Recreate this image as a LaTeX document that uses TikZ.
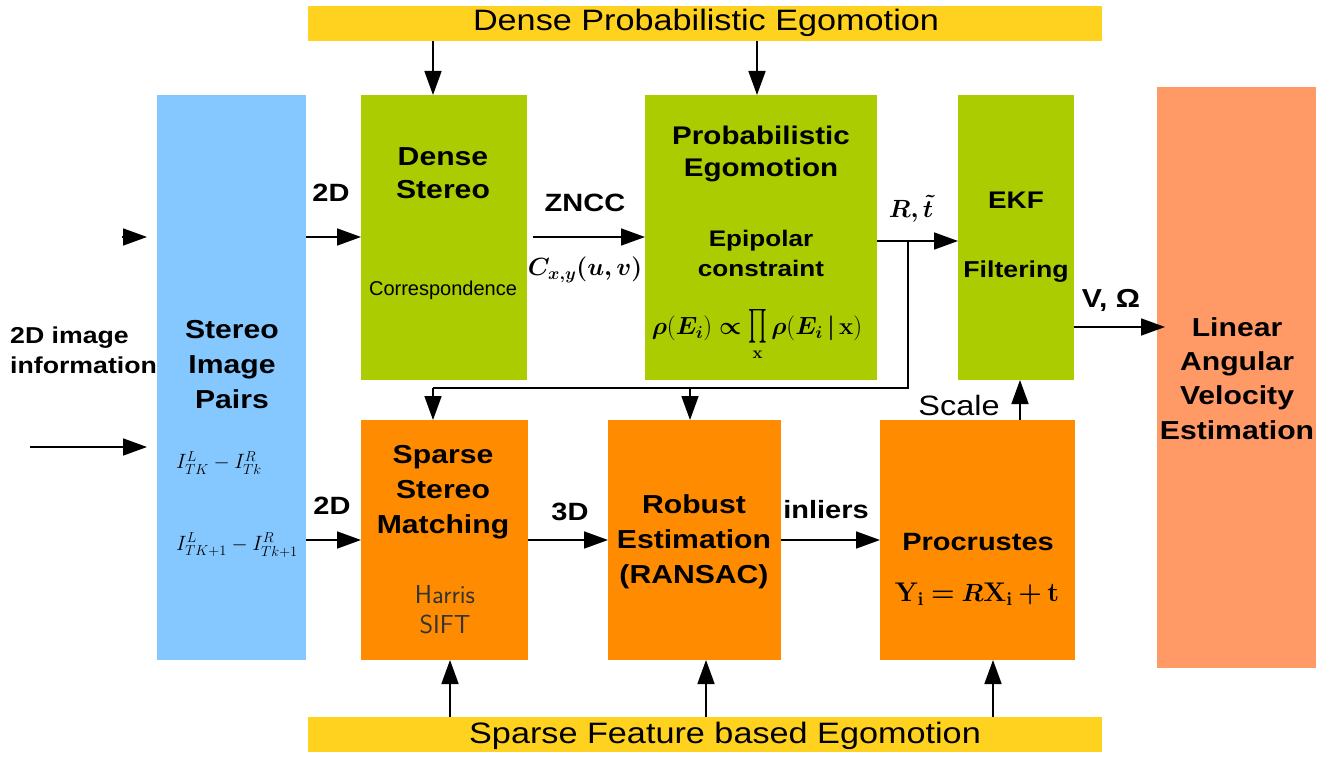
\documentclass[tikz,border=0pt]{standalone}
\usepackage{amsmath}
\usepackage{exscale}
\usepackage{bm}
\usepackage[no-math]{fontspec}
\setmainfont{Liberation Sans}[FakeStretch=1.16]
\newfontfamily\plainfont{Liberation Sans}
\newfontfamily\lmrfont{Latin Modern Roman}
\usetikzlibrary{arrows.meta}
\definecolor{cyel}{HTML}{FFD21F}
\definecolor{cgreen}{HTML}{AACC00}
\definecolor{cblue}{HTML}{85C8FF}
\definecolor{corange}{HTML}{FF8C00}
\definecolor{csalmon}{HTML}{FF9966}
\newcommand{\tb}[1]{\text{\lmrfont\bfseries #1}}
\newcommand{\myBigProd}{\mathop{\scalebox{0.8}[1.35]{$\prod$}}\limits}
\newcommand{\myPEF}{$\bm{\rho}(\bm{E_i})\mathrel{\bm{\propto}}\myBigProd_{\tb{x}}\bm{\rho}(\bm{E_i}\,\bm{|}\,\tb{x})$}
\newcommand{\myPRO}{$\tb{Y}_{\tb{i}}\mathrel{\tb{=}}\bm{R}\tb{X}_{\tb{i}}\mathbin{\tb{+}}\tb{t}$}
\newcommand{\myFA}{$I^{L}_{TK}-I^{R}_{Tk}$}
\newcommand{\myFB}{$I^{L}_{TK+1}-I^{R}_{Tk+1}$}
\newcommand{\myCXY}{$\bm{C_{x,y}(u,v)}$}
\newcommand{\myRT}{$\bm{R,\tilde{t}}$}
\begin{document}
\begin{tikzpicture}[x=1pt,y=-1pt,
  box/.style={draw=none, inner sep=0pt, outer sep=0pt},
  arr/.style={line width=1.7pt, -{Triangle[length=24pt,width=17pt]}},
  ln/.style={line width=1.7pt},
  bl/.style={font=\fontsize{26}{35}\selectfont\bfseries, align=center, inner sep=0pt},
  lb/.style={font=\fontsize{25}{30}\selectfont\bfseries, inner sep=0pt},
  banner/.style={font=\fontsize{29.5}{34}\selectfont, inner sep=0pt},
]
\useasboundingbox (0,0) rectangle (1329,762);
% boxes
\node[box, fill=cyel, minimum width=794pt, minimum height=35pt] (top) at (705,23.5) {};
\node[box, fill=cyel, minimum width=794pt, minimum height=35pt] (bot) at (705,734.5) {};
\node[box, fill=cblue, minimum width=149pt, minimum height=565pt] (blue) at (231.5,377.5) {};
\node[box, fill=cgreen, minimum width=166pt, minimum height=285pt] (ds) at (444,237.5) {};
\node[box, fill=cgreen, minimum width=232pt, minimum height=285pt] (pe) at (761,237.5) {};
\node[box, fill=cgreen, minimum width=116pt, minimum height=285pt] (ekf) at (1016,237.5) {};
\node[box, fill=csalmon, minimum width=159pt, minimum height=581pt] (lin) at (1236.5,377.5) {};
\node[box, fill=corange, minimum width=167pt, minimum height=240pt] (ss) at (444.5,540) {};
\node[box, fill=corange, minimum width=173pt, minimum height=240pt] (rob) at (694.5,540) {};
\node[box, fill=corange, minimum width=195pt, minimum height=240pt] (pro) at (977.5,540) {};

% banner texts
\node[banner] (toptxt) at (706,23) {Dense Probabilistic Egomotion};
\node[banner] (bottxt) at (725,736) {Sparse Feature based Egomotion};

% box texts
\node[bl] (bluetxt) at (232,365) {Stereo\\Image\\Pairs};
\node[inner sep=0pt, font=\fontsize{20}{24}\selectfont] (f1) at (219,463) {\myFA};
\node[inner sep=0pt, font=\fontsize{20}{24}\selectfont] (f2) at (237,545) {\myFB};
\node[bl, font=\fontsize{26}{33}\selectfont\bfseries] (dstxt) at (443,173.5) {Dense\\Stereo};
\node[inner sep=0pt, font=\fontsize{20}{24}\selectfont\plainfont] (corr) at (443,290) {Correspondence};
\node[bl, font=\fontsize{25.5}{32}\selectfont\bfseries] (petxt) at (761,154) {Probabilistic\\Egomotion};
\node[bl, font=\fontsize{22.5}{30}\selectfont\bfseries] (eptxt) at (761,253) {Epipolar\\constraint};
\node[inner sep=0pt, font=\fontsize{24}{28}\selectfont] (pform) at (757,335) {\myPEF};
\node[bl, font=\fontsize{24}{30}\selectfont\bfseries] (ekf1) at (1016,200) {EKF};
\node[bl, font=\fontsize{23}{30}\selectfont\bfseries] (ekf2) at (1016,272) {Filtering};
\node[bl, font=\fontsize{26}{34.3}\selectfont\bfseries] (lintxt) at (1237,378.5) {Linear\\Angular\\Velocity\\Estimation};
\node[bl] (sstxt) at (443,492) {Sparse\\Stereo\\Matching};
\node[inner sep=0pt, align=center, font=\fontsize{26}{30}\selectfont\sffamily, text=black!80] (hs) at (445,610) {Harris\\SIFT};
\node[bl] (robtxt) at (694,542) {Robust\\Estimation\\(RANSAC)};
\node[bl, font=\fontsize{25}{30}\selectfont\bfseries] (protxt) at (978,542) {Procrustes};
\node[inner sep=0pt, font=\fontsize{27}{32}\selectfont] (prof) at (977,594) {\myPRO};

% coordinates
\coordinate (y237) at (0,237);
\coordinate (y241) at (0,241);
\coordinate (y327) at (0,327);
\coordinate (y540) at (0,540);
\coordinate (x433) at (433,0);
\coordinate (x757) at (757,0);
\coordinate (x1020) at (1020,0);
\coordinate (x450) at (450,0);
\coordinate (x706) at (706,0);
\coordinate (x993) at (993,0);
\coordinate (in1) at (122,237);
\coordinate (in2) at (30,447);
\coordinate (j0) at (908,241);
\coordinate (j1) at (908,388);
\coordinate (j2) at (433,388);
\coordinate (j3) at (690,388);

% arrows
\draw[arr] (top.south -| x433) -- (ds.north -| x433);
\draw[arr] (top.south -| x757) -- (pe.north -| x757);
\draw[arr] (in1) -- ([xshift=-10pt]blue.west |- in1);
\draw[arr] (in2) -- ([xshift=-10pt]blue.west |- in2);
\draw[arr] (blue.east |- y237) -- (ds.west |- y237);
\draw[arr] ([xshift=6pt]ds.east |- y237) -- (pe.west |- y237);
\draw[arr] (pe.east |- y241) -- (ekf.west |- y241);
\draw[ln] (j0) -- (j1) -- (j2);
\draw[arr] (j2) -- (ss.north -| j2);
\draw[arr] (j3) -- (rob.north -| j3);
\draw[arr] (ekf.east |- y327) -- ([xshift=8pt]lin.west |- y327);
\draw[arr] (pro.north -| x1020) -- (ekf.south -| x1020);
\draw[arr] (blue.east |- y540) -- (ss.west |- y540);
\draw[arr] (ss.east |- y540) -- (rob.west |- y540);
\draw[arr] (rob.east |- y540) -- (pro.west |- y540);
\draw[arr] (bot.north -| x450) -- (ss.south -| x450);
\draw[arr] (bot.north -| x706) -- (rob.south -| x706);
\draw[arr] (bot.north -| x993) -- (pro.south -| x993);

% labels
\node[inner sep=0pt, anchor=west, align=left, font=\fontsize{23}{30}\selectfont\bfseries] (info) at (10,350) {2D image\\information};
\node[lb] (l2d1) at (331,193) {2D};
\node[lb] (l2d2) at (332,506) {2D};
\node[lb] (l3d) at (570,512) {3D};
\node[lb] (linl) at (826,510) {inliers};
\node[lb] (lzn) at (585,203) {ZNCC};
\node[inner sep=0pt, font=\fontsize{26}{30}\selectfont] (lc) at (585,270) {\myCXY};
\node[inner sep=0pt, font=\fontsize{25}{30}\selectfont] (lrt) at (911,209) {\myRT};
\node[lb, font=\fontsize{26}{30}\selectfont\bfseries] (lvo) at (1111,300) {V, Ω};
\node[inner sep=0pt, font=\fontsize{28}{34}\selectfont] (lsc) at (959,405) {Scale};
\end{tikzpicture}
\end{document}
